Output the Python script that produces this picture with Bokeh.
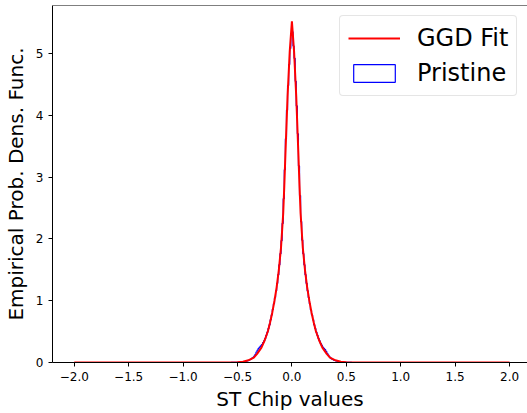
import numpy as np
from bokeh.plotting import figure
from bokeh.models import Range1d, FixedTicker, Span, Legend, LegendItem
from bokeh.embed import file_html
from bokeh.resources import INLINE

# ---- data ----
# GGD fit curve
fit_x = [-2.00, -1.00, -0.60, -0.50, -0.45, -0.40, -0.35, -0.32, -0.28, -0.25, -0.22,
         -0.20, -0.18, -0.16, -0.14, -0.12, -0.10, -0.08, -0.07, -0.06, -0.04, -0.02,
         0.00,
         0.02, 0.04, 0.06, 0.07, 0.08, 0.10, 0.12, 0.14, 0.16, 0.18, 0.20,
         0.22, 0.25, 0.28, 0.32, 0.35, 0.40, 0.45, 0.50, 0.60, 1.00, 2.00]
fit_y = [0.0, 0.0, 0.001, 0.004, 0.012, 0.035, 0.08, 0.14, 0.24, 0.36, 0.51,
         0.65, 0.81, 1.00, 1.22, 1.50, 1.86, 2.41, 2.85, 3.35, 4.30, 5.03,
         5.52,
         5.03, 4.30, 3.35, 2.85, 2.41, 1.86, 1.50, 1.22, 1.00, 0.81, 0.65,
         0.51, 0.36, 0.24, 0.14, 0.08, 0.035, 0.012, 0.004, 0.001, 0.0, 0.0]

# Pristine histogram (bin width 0.01 over [-2, 2]); non-zero bins lie in [-0.6, 0.6]
hist_edges = np.round(np.linspace(-2.0, 2.0, 401), 3)
hist_neg = [0.0, 0.0, 0.0, 0.0, 0.001, 0.001, 0.001, 0.001, 0.002, 0.002,
            0.003, 0.004, 0.005, 0.006, 0.008, 0.010, 0.013, 0.017, 0.022, 0.028,
            0.036, 0.045, 0.056, 0.070, 0.085, 0.105, 0.13, 0.17, 0.20, 0.23,
            0.25, 0.27, 0.29, 0.32, 0.35, 0.39, 0.44, 0.49, 0.55, 0.61,
            0.69, 0.77, 0.86, 0.95, 1.05, 1.16, 1.28, 1.42, 1.58, 1.76,
            1.97, 2.25, 2.65, 3.12, 3.62, 4.08, 4.48, 4.82, 5.08, 5.30]
hist_pos = [5.35, 5.12, 4.92, 4.55, 4.15, 3.70, 3.18, 2.70, 2.28, 1.98,
            1.76, 1.58, 1.42, 1.28, 1.16, 1.05, 0.95, 0.85, 0.77, 0.69,
            0.61, 0.55, 0.49, 0.44, 0.39, 0.35, 0.31, 0.28, 0.25, 0.23,
            0.21, 0.18, 0.15, 0.12, 0.095, 0.075, 0.060, 0.050, 0.040, 0.032,
            0.026, 0.020, 0.016, 0.012, 0.010, 0.008, 0.006, 0.005, 0.004, 0.003,
            0.002, 0.002, 0.001, 0.001, 0.001, 0.0, 0.0, 0.0, 0.0, 0.0]
hist_vals = [0.0] * 140 + hist_neg + hist_pos + [0.0] * 140

x_ticks = [-2.0, -1.5, -1.0, -0.5, 0.0, 0.5, 1.0, 1.5, 2.0]
x_tick_labels = ["\u22122.0", "\u22121.5", "\u22121.0", "\u22120.5", "0.0", "0.5", "1.0", "1.5", "2.0"]
y_ticks = [0, 1, 2, 3, 4, 5]
y_tick_labels = ["0", "1", "2", "3", "4", "5"]

FONT = "DejaVu Sans"

p = figure(width=527, height=413, output_backend="svg", toolbar_location=None,
           x_range=Range1d(-2.2, 2.165), y_range=Range1d(0, 5.775),
           min_border_left=51, min_border_right=0, min_border_top=5, min_border_bottom=51)
p.outline_line_color = None
p.xgrid.visible = False
p.ygrid.visible = False
p.background_fill_color = "white"

for ax, ticks, labels in ((p.xaxis[0], x_ticks, x_tick_labels), (p.yaxis[0], y_ticks, y_tick_labels)):
    ax.ticker = FixedTicker(ticks=ticks, minor_ticks=[])
    ax.major_label_overrides = {t: l for t, l in zip(ticks, labels)}
    ax.major_tick_out = 4
    ax.major_tick_in = 0
    ax.minor_tick_line_color = None
    ax.axis_line_color = "black"
    ax.axis_line_width = 1
    ax.major_tick_line_color = "black"
    ax.major_label_text_color = "black"
    ax.major_label_text_font = FONT
    ax.major_label_text_font_size = "12px"
    ax.axis_label_text_font = FONT
    ax.axis_label_text_font_style = "normal"
    ax.axis_label_text_color = "black"
    ax.axis_label_text_font_size = "20px"

p.xaxis.axis_label = "ST Chip values"
p.xaxis.major_label_standoff = 5
p.xaxis.axis_label_standoff = 3
p.yaxis.axis_label = "Empirical Prob. Dens. Func."
p.yaxis.major_label_standoff = 5
p.yaxis.axis_label_standoff = 5

# top spine
p.add_layout(Span(location=5.775, dimension="width", line_color="black", line_width=1))

# histogram outline (step shape) as an unfilled patch -> rectangle legend glyph
step_x, step_y = [], []
for i, v in enumerate(hist_vals):
    step_x += [hist_edges[i], hist_edges[i + 1]]
    step_y += [v, v]
hist_r = p.patch(step_x, step_y, fill_color=None, line_color="#0000ff", line_width=1.2)

fit_r = p.line(fit_x, fit_y, line_color="#ff0000", line_width=2)

legend = Legend(items=[LegendItem(label="GGD Fit", renderers=[fit_r]),
                       LegendItem(label="Pristine", renderers=[hist_r])],
                location=(287, 266))
legend.label_text_font = FONT
legend.label_text_font_size = "24px"
legend.label_text_color = "black"
legend.glyph_width = 52
legend.glyph_height = 22
legend.label_standoff = 17
legend.padding = 8
legend.spacing = 7
legend.margin = 0
legend.border_line_color = "#cccccc"
legend.border_line_width = 1
legend.background_fill_alpha = 0.8
if "border_radius" in Legend.properties():
    legend.border_radius = 4
p.add_layout(legend)

open("out.html", "w").write(file_html(p, INLINE))
